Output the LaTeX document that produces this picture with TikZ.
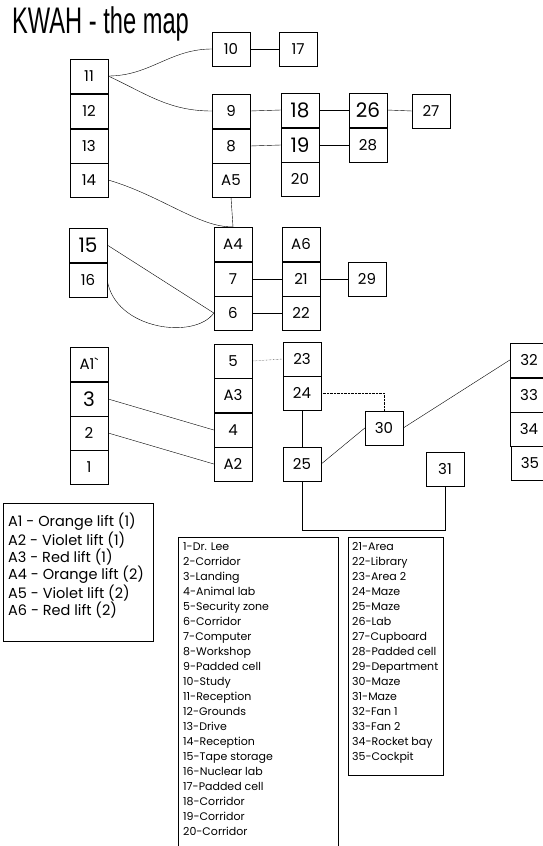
\documentclass[tikz,border=0pt]{standalone}
\usepackage{fontspec}
\setmainfont{Poppins}
\newfontfamily\titlefont{Liberation Sans}
\usetikzlibrary{calc}

\begin{document}
\begin{tikzpicture}[x=1pt, y=-1pt,
    room/.style={draw, thin, minimum width=38pt, minimum height=34pt, inner sep=0pt, font=\fontsize{15}{15}\selectfont},
    bigroom/.style={room, font=\fontsize{20}{20}\selectfont},
    link/.style={thin},
    dotlink/.style={thin, densely dotted},
    listtext/.style={anchor=north west, align=left, inner sep=0pt, font=\fontsize{11}{15}\selectfont}]

    \useasboundingbox (0,0) rectangle (543,846);

    \node [anchor=base west, inner sep=0pt, xscale=0.64] (title) at (12,33) {\titlefont\fontsize{37}{37}\selectfont KWAH - the map};

    % top block
    \node [room] (r10) at (231,49) {10};
    \node [room] (r17) at (298,49) {17};

    \node [room] (r11) at (89,76) {11};
    \node [room] (r12) at (89,111) {12};
    \node [room] (r13) at (89,146) {13};
    \node [room] (r14) at (89,180) {14};

    \node [room] (r9) at (231,111) {9};
    \node [room] (r8) at (231,146) {8};
    \node [room] (a5) at (231,180) {A5};

    \node [bigroom] (r18) at (300,110) {18};
    \node [bigroom] (r19) at (300,145) {19};
    \node [room] (r20) at (300,179) {20};

    \node [bigroom] (r26) at (368,110) {26};
    \node [room] (r28) at (368,145) {28};
    \node [room] (r27) at (431,111) {27};

    \draw [link] (r10) -- (r17);
    \draw [link] (r11.east) to[out=0, in=180] (r10.west);
    \draw [link] (r11.east) to[out=-25, in=180] (r9.west);
    \draw [link] (r9.east) -- (r18.west);
    \draw [link] (r8.east) -- (r19.west);
    \draw [link] (r18.east) -- (r26.west);
    \draw [link] (r19.east) -- (r28.west);
    \draw [link] (r26.east) -- (r27.west);

    % middle block
    \node [bigroom] (r15) at (88,245) {15};
    \node [room] (r16) at (88,280) {16};

    \node [room] (a4) at (233,244) {A4};
    \node [room] (r7) at (233,279) {7};
    \node [room] (r6) at (233,313) {6};

    \node [room] (a6) at (301,244) {A6};
    \node [room] (r21) at (301,279) {21};
    \node [room] (r22) at (301,313) {22};
    \node [room] (r29) at (367,279) {29};

    \draw [link] (a5.south) -- (a4.north);
    \draw [link] (r14.east) .. controls (160,195) and (200,228) .. (a4.north);
    \draw [link] (r15.east) -- (r6.west);
    \draw [link] (r16.east) .. controls (115,330) and (195,340) .. (r6.west);
    \draw [link] (r7.east) -- (r21.west);
    \draw [link] (r6.east) -- (r22.west);
    \draw [link] (r21.east) -- (r29.west);

    % lower block
    \node [room] (a1) at (89,364) {A1\textasciigrave};
    \node [bigroom] (r3) at (89,399) {3};
    \node [room] (r2) at (89,433) {2};
    \node [room] (r1) at (89,467) {1};

    \node [room] (r5) at (233,361) {5};
    \node [room] (a3) at (233,395) {A3};
    \node [room] (r4) at (233,430) {4};
    \node [room] (a2) at (233,464) {A2};

    \node [room] (r23) at (302,359) {23};
    \node [room] (r24) at (302,393) {24};
    \node [room] (r25) at (302,464) {25};
    \node [room] (r30) at (384,428) {30};
    \node [room] (r31) at (445,469) {31};

    \node [room] (r32) at (529,360) {32};
    \node [room] (r33) at (529,395) {33};
    \node [room] (r34) at (529,429) {34};
    \node [room] (r35) at (530,463) {35};

    \draw [link] (r3.east) -- (r4.west);
    \draw [link] (r2.east) -- (a2.west);
    \draw [dotlink] (r5.east) -- (r23.west);
    \draw [dotlink] (r24.east) -| (r30.north);
    \draw [link] (r24.south) -- (r25.north);
    \draw [link] (r25.east) -- (r30.west);
    \draw [link] (r30.east) -- (r32.west);
    \draw [link] (r25.south) -- ++(0,49) -| (r31.south);

    % lift legend
    \draw [thin] (3,503) rectangle (153,641);
    \node [anchor=north west, align=left, inner sep=0pt, font=\fontsize{14.5}{17.3}\selectfont] (lifts) at (8,513) {A1 - Orange lift (1)\\A2 - Violet lift (1)\\A3 - Red lift (1)\\A4 - Orange lift (2)\\A5 - Violet lift (2)\\A6 - Red lift (2)};

    % room lists
    \draw [thin] (338,846) -- (338,537) -- (178,537) -- (178,846);
    \node [listtext] (listA) at (183,542) {1-Dr. Lee\\2-Corridor\\3-Landing\\4-Animal lab\\5-Security zone\\6-Corridor\\7-Computer\\8-Workshop\\9-Padded cell\\10-Study\\11-Reception\\12-Grounds\\13-Drive\\14-Reception\\15-Tape storage\\16-Nuclear lab\\17-Padded cell\\18-Corridor\\19-Corridor\\20-Corridor};

    \draw [thin] (348,537) rectangle (443,775);
    \node [listtext] (listB) at (352,542) {21-Area\\22-Library\\23-Area 2\\24-Maze\\25-Maze\\26-Lab\\27-Cupboard\\28-Padded cell\\29-Department\\30-Maze\\31-Maze\\32-Fan 1\\33-Fan 2\\34-Rocket bay\\35-Cockpit};

\end{tikzpicture}
\end{document}
